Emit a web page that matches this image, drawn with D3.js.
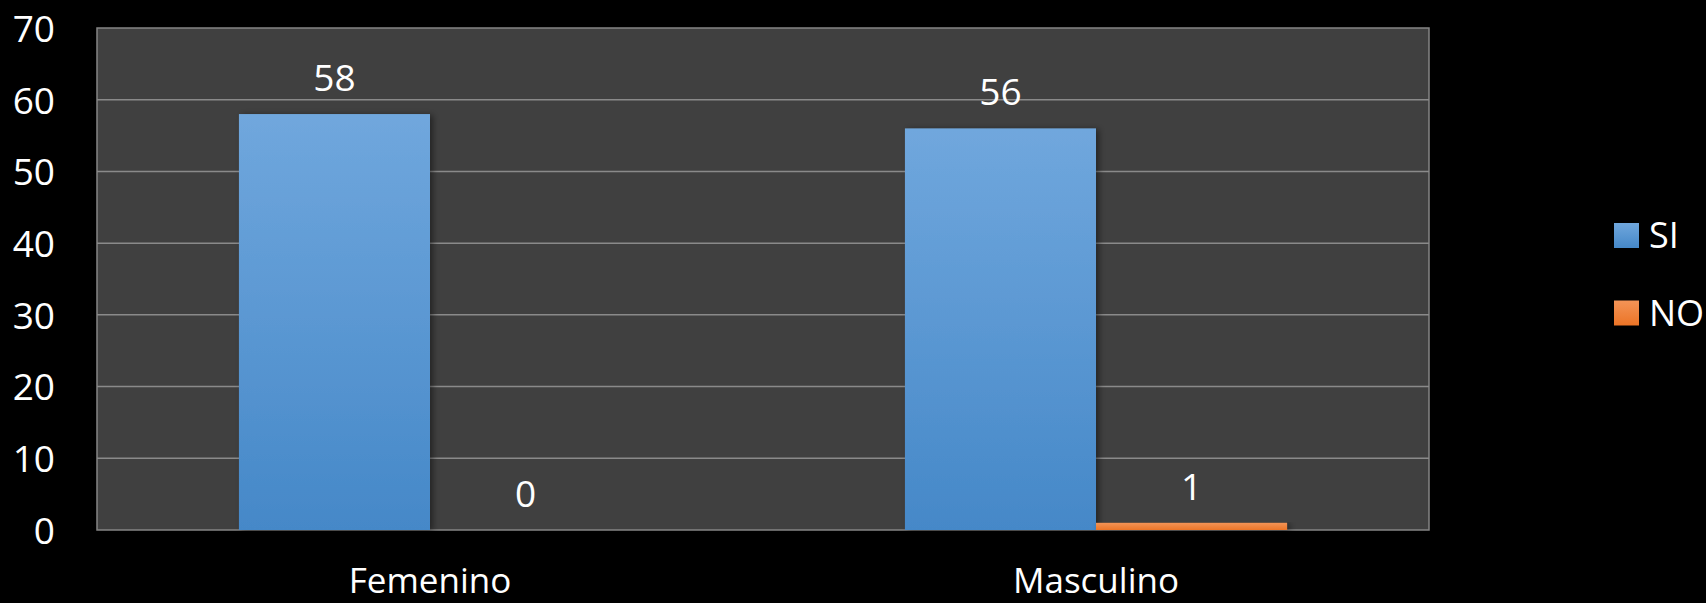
<!DOCTYPE html>
<html><head><meta charset="utf-8">
<script src="https://cdn.jsdelivr.net/npm/d3@7"></script>
<style>html,body{margin:0;padding:0;background:#000;overflow:hidden;}</style>
</head><body><svg id="c" width="1706" height="603"></svg>
<script>
const categories = ["Femenino", "Masculino"];
const seriesNames = ["SI", "NO"];
const siValues = [58, 56];
const noValues = [0, 1];
const yTicks = [0, 10, 20, 30, 40, 50, 60, 70];

const W = 1706, H = 603;
const m = {left: 97, right: 1429, top: 28, bottom: 530};
const svg = d3.select("#c");
const font = "'Open Sans', 'Noto Sans', sans-serif";

const defs = svg.append("defs");
const g1 = defs.append("linearGradient").attr("id","gSI").attr("x1",0).attr("y1",0).attr("x2",0).attr("y2",1);
g1.append("stop").attr("offset","0%").attr("stop-color","#70a7dd");
g1.append("stop").attr("offset","100%").attr("stop-color","#4588c8");
const g2 = defs.append("linearGradient").attr("id","gNO").attr("x1",0).attr("y1",0).attr("x2",0).attr("y2",1);
g2.append("stop").attr("offset","0%").attr("stop-color","#f39457");
g2.append("stop").attr("offset","100%").attr("stop-color","#ec7426");
const f = defs.append("filter").attr("id","sh").attr("x","-10%").attr("y","-10%").attr("width","130%").attr("height","130%");
f.append("feDropShadow").attr("dx",3).attr("dy",1).attr("stdDeviation",3).attr("flood-color","#000").attr("flood-opacity",0.45);

const x0 = d3.scaleBand().domain(categories).range([m.left, m.right]).paddingInner(0).paddingOuter(0);
const x1 = d3.scaleBand().domain(seriesNames).range([0, x0.bandwidth()]).paddingInner(0).paddingOuter(0.743);
const y = d3.scaleLinear().domain([0, 70]).range([m.bottom, m.top]);

svg.append("rect").attr("x", m.left).attr("y", m.top).attr("width", m.right - m.left).attr("height", m.bottom - m.top)
  .attr("fill", "#404040").attr("stroke", "#858585").attr("stroke-width", 1.5);

svg.append("g").selectAll("line").data(yTicks.filter(t => t > 0 && t < 70)).join("line")
  .attr("x1", m.left).attr("x2", m.right).attr("y1", d => y(d)).attr("y2", d => y(d))
  .attr("stroke", "#8a8a8a").attr("stroke-width", 1.5);

const yAxis = d3.axisLeft(y).tickValues(yTicks).tickSize(0).tickPadding(0);
const ya = svg.append("g").attr("transform", `translate(55,0)`).call(yAxis);
ya.select(".domain").remove();
ya.selectAll("text").attr("fill", "#fff").attr("font-size", 37).attr("font-family", font).attr("dy", "0.36em").attr("text-anchor","end");

const data = categories.map((c, i) => ({cat: c, vals: [{s: "SI", v: siValues[i]}, {s: "NO", v: noValues[i]}]}));
const groups = svg.append("g").selectAll("g").data(data).join("g").attr("transform", d => `translate(${x0(d.cat)},0)`);
groups.selectAll("rect").data(d => d.vals).join("rect")
  .attr("x", d => x1(d.s)).attr("width", x1.bandwidth())
  .attr("y", d => y(d.v)).attr("height", d => y(0) - y(d.v))
  .attr("fill", d => d.s === "SI" ? "url(#gSI)" : "url(#gNO)")
  .attr("filter", "url(#sh)");
groups.selectAll("text").data(d => d.vals).join("text")
  .attr("x", d => x1(d.s) + x1.bandwidth() / 2).attr("y", d => y(d.v) - 23)
  .attr("text-anchor", "middle").attr("fill", "#fff").attr("font-size", 37).attr("font-family", font)
  .text(d => d.v);

const xAxis = d3.axisBottom(x0).tickSize(0).tickPadding(0);
const xa = svg.append("g").attr("transform", `translate(0,593)`).call(xAxis);
xa.select(".domain").remove();
xa.selectAll("text").attr("fill", "#fff").attr("font-size", 35).attr("font-family", font).attr("dy", 0);

const legY = [235.5, 313];
const leg = svg.append("g").selectAll("g").data(seriesNames).join("g")
  .attr("transform", (d, i) => `translate(1614,${legY[i]})`);
leg.append("rect").attr("x", 0).attr("y", -12.5).attr("width", 25).attr("height", 25)
  .attr("fill", d => d === "SI" ? "url(#gSI)" : "url(#gNO)");
leg.append("text").attr("x", 35).attr("y", 0).attr("dy", "0.36em").attr("fill", "#fff")
  .attr("font-size", 36).attr("font-family", font).text(d => d);
</script></body></html>
